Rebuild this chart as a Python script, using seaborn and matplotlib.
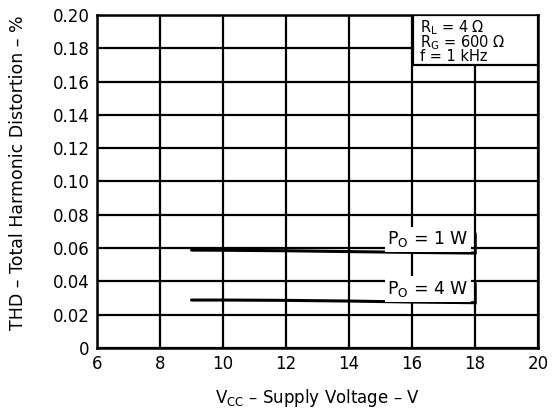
import numpy as np
import pandas as pd
import seaborn as sns
import matplotlib
matplotlib.use("Agg")
import matplotlib.pyplot as plt
from matplotlib.patches import Rectangle

# Data
vcc_1w = [9, 10, 12, 14, 16, 18]
thd_1w = [0.0588, 0.0587, 0.0584, 0.0579, 0.0574, 0.0570]
vcc_4w = [9, 10, 12, 14, 16, 18]
thd_4w = [0.0288, 0.0288, 0.0286, 0.0282, 0.0276, 0.0272]
x_ticks = [6, 8, 10, 12, 14, 16, 18, 20]
y_ticks = [0, 0.02, 0.04, 0.06, 0.08, 0.10, 0.12, 0.14, 0.16, 0.18, 0.20]
y_ticklabels = ["0", "0.02", "0.04", "0.06", "0.08", "0.10", "0.12", "0.14", "0.16", "0.18", "0.20"]
curve_labels = ["P$_\\mathregular{O}$ = 1 W", "P$_\\mathregular{O}$ = 4 W"]
conditions = ["R$_\\mathregular{L}$ = 4 Ω", "R$_\\mathregular{G}$ = 600 Ω", "f = 1 kHz"]

sns.set_theme(style="white")
plt.rcParams['font.family'] = ['DejaVu Sans']
plt.rcParams['mathtext.fontset'] = 'dejavusans'

df = pd.concat([
    pd.DataFrame({"Vcc": vcc_1w, "THD": thd_1w, "Po": "1 W"}),
    pd.DataFrame({"Vcc": vcc_4w, "THD": thd_4w, "Po": "4 W"}),
])

fig = plt.figure(figsize=(5.56, 4.11), dpi=100)
ax = fig.add_axes([0.1745, 0.1533, 0.793, 0.8102])

sns.lineplot(data=df, x="Vcc", y="THD", units="Po", estimator=None,
             color="black", linewidth=2.2, ax=ax, legend=False, zorder=4)

ax.set_xlim(6, 20)
ax.set_ylim(0, 0.20)
ax.set_xticks(x_ticks)
ax.set_xticklabels([str(t) for t in x_ticks])
ax.set_yticks(y_ticks)
ax.set_yticklabels(y_ticklabels)
ax.grid(True, color="black", linewidth=1.6, zorder=1)
ax.set_axisbelow(True)
for s in ax.spines.values():
    s.set_color("black")
    s.set_linewidth(1.8)
ax.tick_params(axis="both", colors="black", labelsize=12, length=0)
ax.tick_params(axis="x", pad=5)
ax.tick_params(axis="y", pad=5.5)

ax.set_xlabel("V$_\\mathregular{CC}$ – Supply Voltage – V", fontsize=12, color="black")
ax.set_ylabel("THD – Total Harmonic Distortion – %", fontsize=12.5, color="black")
ax.xaxis.set_label_coords(0.5, -0.118)
ax.yaxis.set_label_coords(-0.158, 0.525)

for xs, ys, lab in [(vcc_1w, thd_1w, curve_labels[0]), (vcc_4w, thd_4w, curve_labels[1])]:
    ax.text(xs[-1] - 0.2, ys[-1] + 0.0022, lab, ha="right", va="bottom", fontsize=12.5,
            color="black", zorder=5,
            bbox=dict(boxstyle="square,pad=0.15", facecolor="white", edgecolor="none"))
    ax.plot([xs[-1], xs[-1]], [ys[-1], ys[-1] + 0.012], color="black", linewidth=1.8, zorder=6)

ax.add_patch(Rectangle((0.717, 0.85), 0.283, 0.15, transform=ax.transAxes,
                       facecolor="white", edgecolor="black", linewidth=1.6, zorder=5))
ax.text(0.733, 0.99, "\n".join(conditions), transform=ax.transAxes, ha="left", va="top",
        fontsize=10.5, color="black", linespacing=0.74, zorder=6)

fig.savefig("out.png", dpi=100)
